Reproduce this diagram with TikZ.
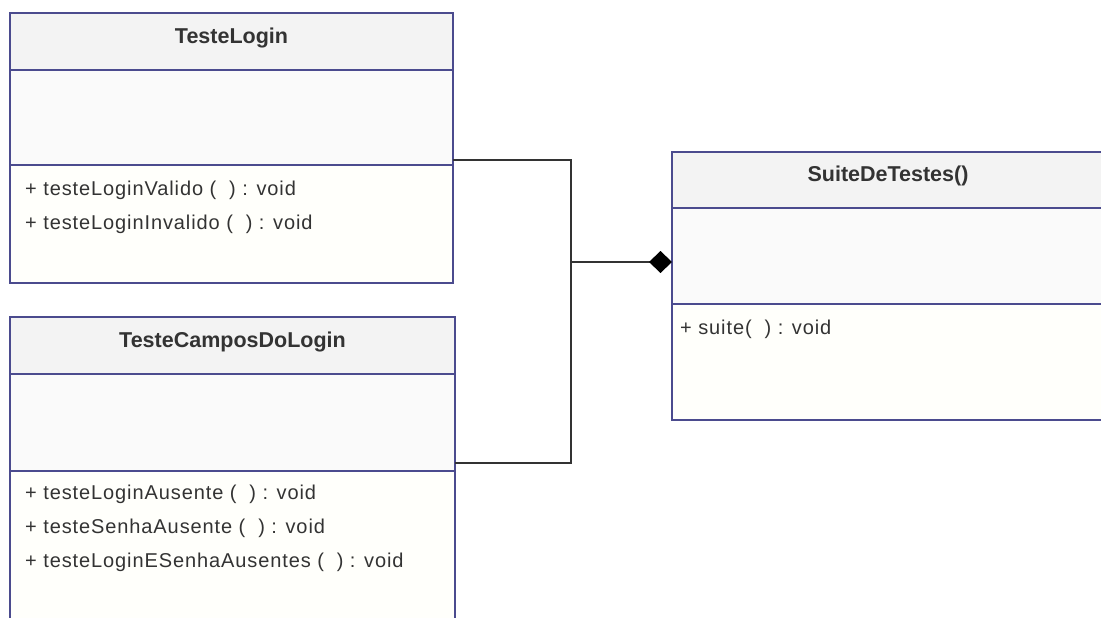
\documentclass[tikz,border=0pt]{standalone}
\usepackage{fontspec}
\setmainfont{Liberation Sans}
\usetikzlibrary{positioning,arrows.meta}

\definecolor{umlborder}{HTML}{4B4B8E}
\definecolor{umltitle}{HTML}{F3F3F3}
\definecolor{umlbody}{HTML}{FAFAFA}
\definecolor{umlops}{HTML}{FFFFFB}
\definecolor{umltext}{HTML}{333333}
\definecolor{umlline}{HTML}{333333}

\tikzset{
  classpart/.style={draw=umlborder, line width=1.6pt, rectangle, outer sep=0pt, inner sep=0pt},
  classtitle/.style={classpart, fill=umltitle, minimum height=57pt, text depth=12pt, font=\fontsize{21.5}{24}\selectfont\bfseries, text=umltext},
  classattrs/.style={classpart, fill=umlbody},
  classops/.style={classpart, fill=umlops},
  oplist/.style={anchor=north west, align=left, inner sep=0pt, font=\fontsize{20}{34}\selectfont\addfontfeature{LetterSpace=4.5}, text=umltext},
  link/.style={draw=umlline, line width=1.5pt},
}

\begin{document}
\begin{tikzpicture}[x=1pt,y=-1pt]
  \clip (0,0) rectangle (1101,618);
  \fill[white] (0,0) rectangle (1101,618);

  \node[classtitle, minimum width=443pt, anchor=north west] (login) at (10,13) {TesteLogin};
  \node[classattrs, minimum width=443pt, minimum height=95pt, below=0pt of login] (login-attrs) {};
  \node[classops, minimum width=443pt, minimum height=118pt, below=0pt of login-attrs] (login-ops) {};
  \node[oplist] (login-list) at ([xshift=15pt, yshift=-16pt]login-ops.north west)
    {+ testeLoginValido (\ \ ) : void\\+ testeLoginInvalido (\ \ ) : void};

  \node[classtitle, minimum width=445pt, anchor=north west] (campos) at (10,317) {TesteCamposDoLogin};
  \node[classattrs, minimum width=445pt, minimum height=97pt, below=0pt of campos] (campos-attrs) {};
  \node[classops, minimum width=445pt, minimum height=200pt, below=0pt of campos-attrs] (campos-ops) {};
  \node[oplist] (campos-list) at ([xshift=15pt, yshift=-14pt]campos-ops.north west)
    {+ testeLoginAusente (\ \ ) : void\\+ testeSenhaAusente (\ \ ) : void\\+ testeLoginESenhaAusentes (\ \ ) : void};

  \node[classtitle, minimum width=432pt, minimum height=56pt, anchor=north west] (suite) at (672,152) {SuiteDeTestes()};
  \node[classattrs, minimum width=432pt, minimum height=96pt, below=0pt of suite] (suite-attrs) {};
  \node[classops, minimum width=432pt, minimum height=116pt, below=0pt of suite-attrs] (suite-ops) {};
  \node[oplist] (suite-list) at ([xshift=8pt, yshift=-16pt]suite-ops.north west)
    {+ suite(\ \ ) : void};

  \coordinate (joint) at (571,262);
  \draw[link] ([yshift=5pt]login-attrs.south east) -| (joint);
  \draw[link] ([yshift=8pt]campos-attrs.south east) -| (joint);
  \draw[link, -{Diamond[length=23pt, width=22pt, color=black, fill=black]}] (joint) -- (suite-attrs.west |- joint);
\end{tikzpicture}
\end{document}
